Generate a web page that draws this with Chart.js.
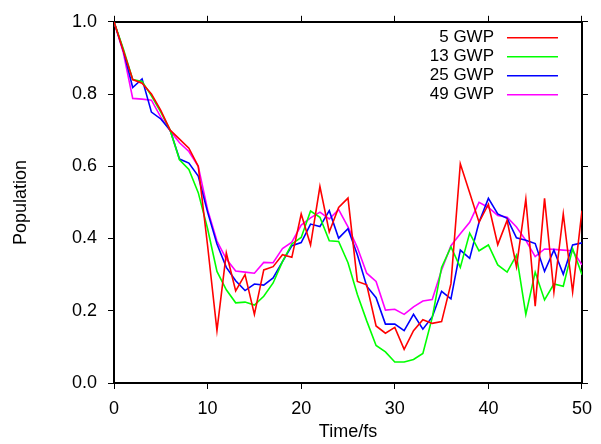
<!DOCTYPE html>
<html>
<head>
<meta charset="utf-8">
<script src="https://cdn.jsdelivr.net/npm/chart.js@4/dist/chart.umd.min.js"></script>
<style>
html,body{margin:0;padding:0;background:#fff;}
canvas{display:block;}
</style>
</head>
<body>
<canvas id="c" width="601" height="444"></canvas>
<script>
const times = Array.from({length: 51}, (_, i) => i);
const seriesLabels = ["5 GWP", "13 GWP", "25 GWP", "49 GWP"];
const seriesColors = ["#ff0000", "#00ff00", "#0000ff", "#ff00ff"];
const yTicks = [0.0, 0.2, 0.4, 0.6, 0.8, 1.0];
const xTicks = [0, 10, 20, 30, 40, 50];

const gwp5 = [1.0,0.92,0.84,0.83,0.80,0.755,0.70,0.675,0.65,0.60,
  0.38,0.145,0.36,0.255,0.30,0.19,0.313,0.322,0.355,0.348,
  0.468,0.382,0.544,0.418,0.486,0.512,0.281,0.272,0.158,0.138,
  0.154,0.093,0.145,0.175,0.165,0.17,0.275,0.607,0.527,0.445,
  0.495,0.383,0.45,0.322,0.509,0.213,0.511,0.252,0.468,0.252,0.477];
const gwp13 = [1.0,0.925,0.84,0.835,0.795,0.75,0.70,0.618,0.591,0.527,
  0.427,0.309,0.258,0.222,0.224,0.216,0.240,0.277,0.336,0.385,
  0.403,0.476,0.459,0.394,0.392,0.333,0.245,0.172,0.104,0.086,
  0.058,0.058,0.065,0.082,0.181,0.32,0.377,0.32,0.415,0.366,
  0.382,0.327,0.307,0.354,0.19,0.307,0.23,0.274,0.268,0.372,0.30];
const gwp25 = [1.0,0.92,0.818,0.842,0.75,0.731,0.70,0.62,0.609,0.573,
  0.473,0.385,0.32,0.283,0.256,0.274,0.271,0.291,0.336,0.38,
  0.389,0.44,0.433,0.477,0.401,0.427,0.355,0.268,0.236,0.163,
  0.163,0.145,0.19,0.149,0.183,0.254,0.233,0.368,0.345,0.445,
  0.511,0.468,0.456,0.402,0.395,0.386,0.309,0.368,0.301,0.382,0.388];
const gwp49 = [1.0,0.914,0.788,0.786,0.783,0.736,0.698,0.665,0.641,0.60,
  0.48,0.393,0.343,0.31,0.307,0.304,0.334,0.333,0.372,0.39,
  0.437,0.457,0.473,0.454,0.48,0.432,0.375,0.304,0.281,0.202,
  0.204,0.190,0.211,0.227,0.231,0.313,0.38,0.413,0.445,0.50,
  0.486,0.464,0.459,0.432,0.395,0.35,0.371,0.37,0.368,0.366,0.327];

const allSeries = [gwp5, gwp13, gwp25, gwp49];
const FONT = '"Liberation Sans", Arial, Helvetica, sans-serif';

const datasets = allSeries.map((vals, i) => ({
  label: seriesLabels[i],
  data: times.map((t, j) => ({x: t, y: vals[j]})),
  borderColor: seriesColors[i],
  backgroundColor: seriesColors[i],
  borderWidth: 1.6,
  pointRadius: 0,
  tension: 0,
  fill: false
}));

const legendPlugin = {
  id: 'gpLegend',
  afterDatasetsDraw(chart) {
    const ctx = chart.ctx;
    const area = chart.chartArea;
    ctx.save();
    ctx.font = '17px ' + FONT;
    ctx.textAlign = 'right';
    ctx.textBaseline = 'middle';
    chart.data.datasets.forEach((ds, i) => {
      const y = area.top + 16 + i * 19;
      ctx.fillStyle = '#000';
      ctx.fillText(ds.label, area.right - 88, y);
      ctx.strokeStyle = ds.borderColor;
      ctx.lineWidth = 1.6;
      ctx.beginPath();
      ctx.moveTo(area.right - 75, y);
      ctx.lineTo(area.right - 24, y);
      ctx.stroke();
    });
    ctx.restore();
  }
};

function axisCommon(extra) {
  return Object.assign({
    type: 'linear',
    grid: {display: true, drawOnChartArea: false, drawTicks: true, tickLength: 6, color: '#000', lineWidth: 1},
    border: {display: true, color: '#000', width: 2}
  }, extra);
}

new Chart(document.getElementById('c'), {
  type: 'line',
  data: {datasets},
  options: {
    responsive: false,
    animation: false,
    layout: {padding: 0},
    plugins: {legend: {display: false}, tooltip: {enabled: false}},
    scales: {
      x: axisCommon({
        position: 'bottom', min: 0, max: 50,
        afterBuildTicks: s => { s.ticks = xTicks.map(v => ({value: v})); },
        ticks: {color: '#000', font: {size: 18, family: FONT}, padding: 9, maxRotation: 0, callback: v => String(v)},
        title: {display: true, text: 'Time/fs', color: '#000', font: {size: 18, family: FONT}, padding: {top: 0, bottom: 1}},
        afterFit: s => { s.height = 61; }
      }),
      x2: axisCommon({
        position: 'top', min: 0, max: 50,
        afterBuildTicks: s => { s.ticks = xTicks.map(v => ({value: v})); },
        ticks: {display: false},
        afterFit: s => { s.height = 17; }
      }),
      y: axisCommon({
        position: 'left', min: 0, max: 1,
        afterBuildTicks: s => { s.ticks = yTicks.map(v => ({value: v})); },
        ticks: {color: '#000', font: {size: 18, family: FONT}, padding: 11, callback: v => Number(v).toFixed(1)},
        title: {display: true, text: 'Population', color: '#000', font: {size: 18, family: FONT}, padding: {top: 10, bottom: 0}},
        afterFit: s => { s.width = 114; }
      }),
      y2: axisCommon({
        position: 'right', min: 0, max: 1,
        afterBuildTicks: s => { s.ticks = yTicks.map(v => ({value: v})); },
        ticks: {display: false},
        afterFit: s => { s.width = 13; }
      })
    }
  },
  plugins: [legendPlugin]
});
</script>
</body>
</html>
